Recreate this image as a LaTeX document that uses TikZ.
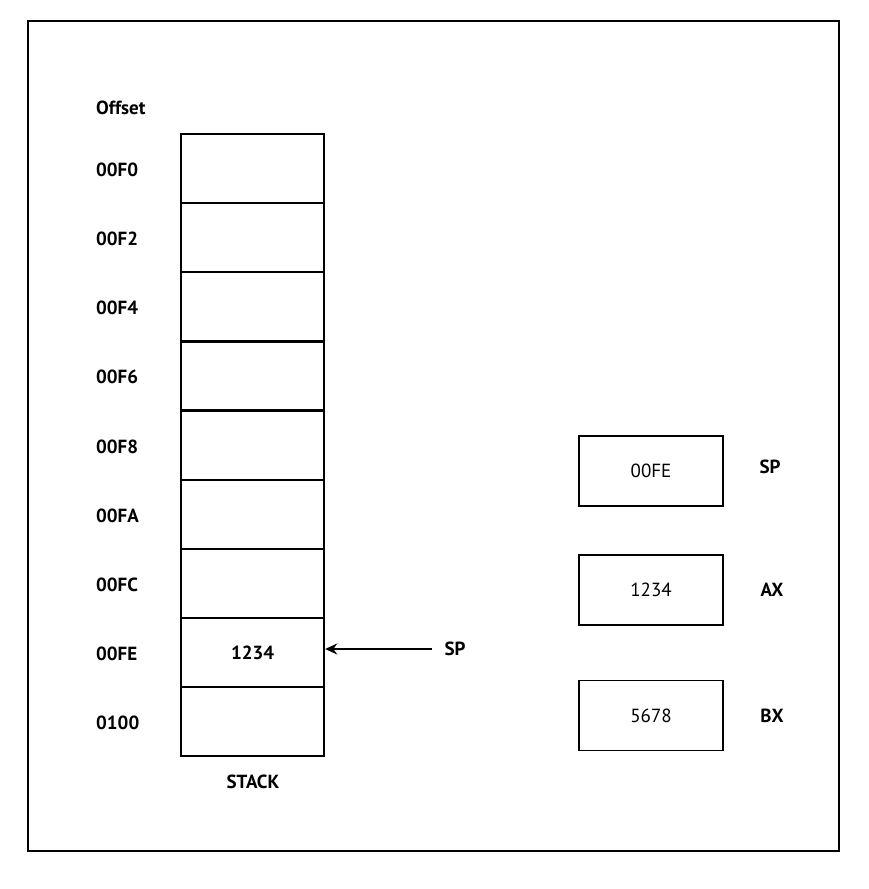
\documentclass[tikz,border=0pt]{standalone}
\usepackage{fontspec}
\setmainfont{PT Sans}
\usetikzlibrary{arrows.meta}
\begin{document}
\begin{tikzpicture}[x=1pt,y=-1pt,
  cell/.style={draw, line width=2.2pt, minimum width=143pt, minimum height=69.1pt, inner sep=0pt, anchor=north west, font=\fontsize{19}{21}\selectfont\bfseries},
  reg/.style={draw, line width=1.8pt, minimum width=144pt, minimum height=70pt, inner sep=0pt, font=\fontsize{19}{21}\selectfont},
  lbl/.style={font=\fontsize{19}{21}\selectfont\bfseries, inner sep=0pt}]
\useasboundingbox (0,0) rectangle (868,889);
\node[draw, line width=2.2pt, minimum width=811pt, minimum height=830pt, inner sep=0pt, anchor=north west] (frame) at (27,20) {};
\node[lbl, anchor=west] (offset) at (96,108) {Offset};
\foreach \i/\t/\v in {0/00F0/,1/00F2/,2/00F4/,3/00F6/,4/00F8/,5/00FA/,6/00FC/,7/00FE/1234,8/0100/}{
  \node[cell] (c\i) at (180,{133+69.1*\i}) {\v};
  \node[lbl, anchor=west] (o\i) at (96,{133+69.1*\i+37}) {\t};
}
\node[lbl] (stack) at (253,782) {STACK};
\node[lbl] (sp1) at (455,649) {SP};
\draw[line width=2.2pt, -{Stealth[length=12pt,width=11pt]}] (sp1.west) ++(-12,0) coordinate (a0) -- (c7.east |- a0);
\node[reg] (r1) at (651,471) {00FE};
\node[reg] (r2) at (651,590) {1234};
\node[reg] (r3) at (651,715.5) {5678};
\node[lbl] (l1) at (770,467) {SP};
\node[lbl] (l2) at (772,590) {AX};
\node[lbl] (l3) at (772,716) {BX};
\end{tikzpicture}
\end{document}
